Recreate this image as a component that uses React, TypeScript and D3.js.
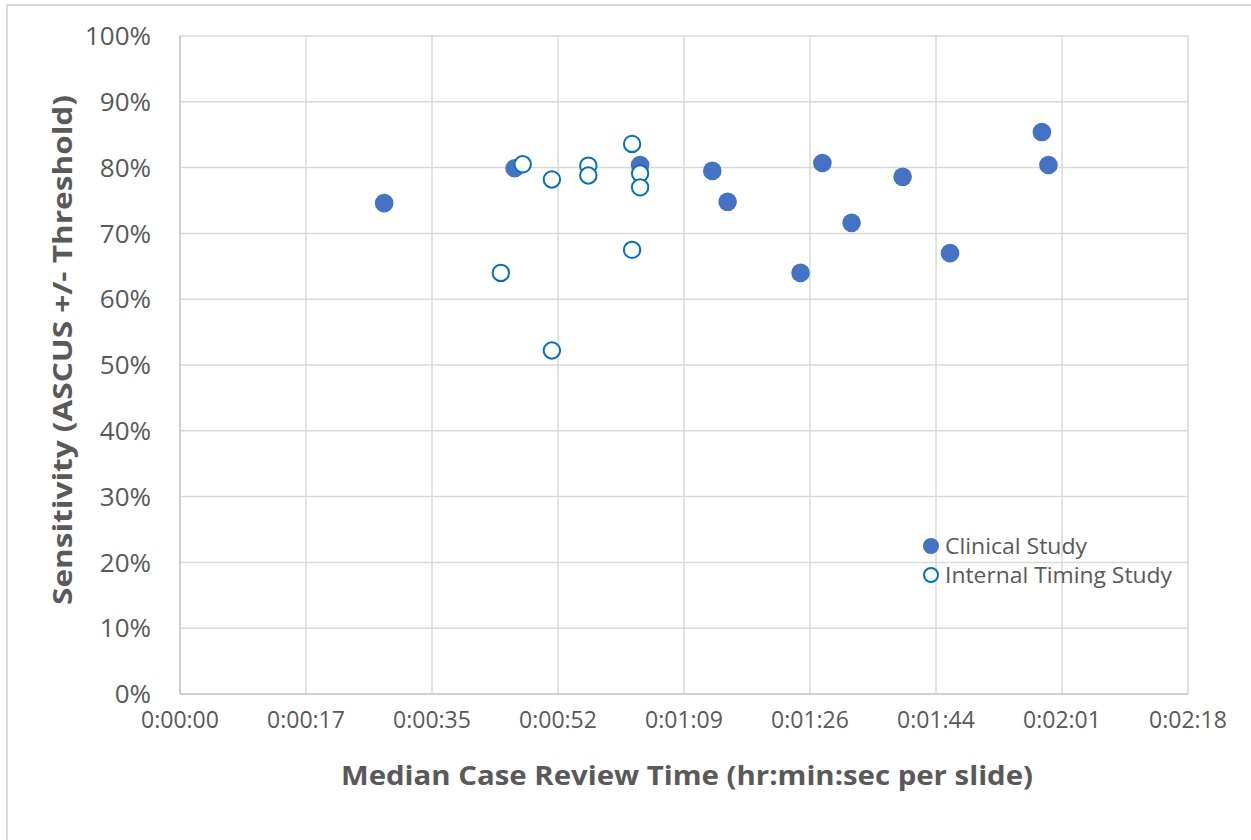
import React from "react";
import * as d3 from "d3";

// Median review time in seconds per slide, sensitivity in %
const clinicalTime = [28.0, 45.9, 63.1, 73.0, 75.1, 85.1, 88.1, 92.1, 99.1, 105.6, 118.2, 119.1];
const clinicalSens = [74.6, 79.9, 80.4, 79.5, 74.8, 64.0, 80.7, 71.6, 78.6, 67.0, 85.4, 80.4];
const internalTime = [44.0, 47.0, 51.0, 51.0, 56.0, 56.0, 62.0, 62.0, 63.1, 63.1];
const internalSens = [64.0, 80.5, 78.2, 52.2, 80.3, 78.8, 83.6, 67.5, 79.1, 77.0];

const xTickLabels = ["0:00:00", "0:00:17", "0:00:35", "0:00:52", "0:01:09", "0:01:26", "0:01:44", "0:02:01", "0:02:18"];
const xTickStep = 17.28; // Excel major unit 0.0002 day
const yTicks = [0, 10, 20, 30, 40, 50, 60, 70, 80, 90, 100];
const seriesNames = ["Clinical Study", "Internal Timing Study"];

const W = 1251;
const H = 840;
const left = 180, right = 1188, top = 36, bottom = 694;
const FONT = "'Open Sans', 'Noto Sans', sans-serif";
const TEXT = "#595959";

export default function App() {
  const x = d3.scaleLinear().domain([0, xTickStep * 8]).range([left, right]);
  const y = d3.scaleLinear().domain([0, 100]).range([bottom, top]);
  const xTicks = xTickLabels.map((_, i) => i * xTickStep);

  const clinical = clinicalTime.map((t, i) => ({ t, s: clinicalSens[i] }));
  const internal = internalTime.map((t, i) => ({ t, s: internalSens[i] }));

  return (
    <svg width={W} height={H} style={{ position: "absolute", left: 0, top: 0, background: "#fff" }} fontFamily={FONT}>
      <rect x={0} y={0} width={W} height={H} fill="#fff" />
      {/* chart border */}
      <rect x={7} y={5} width={W + 20} height={H + 20} fill="none" stroke="#d9d9d9" strokeWidth={2} />

      {/* gridlines */}
      {yTicks.map((v) => (
        <line key={"gy" + v} x1={left} x2={right} y1={y(v)} y2={y(v)} stroke={v === 0 ? "#bfbfbf" : "#d9d9d9"} strokeWidth={v === 0 ? 1.5 : 1.5} />
      ))}
      {xTicks.map((v, i) => (
        <line key={"gx" + i} x1={x(v)} x2={x(v)} y1={top} y2={bottom} stroke={i === 0 ? "#bfbfbf" : "#d9d9d9"} strokeWidth={1.5} />
      ))}

      {/* y tick labels */}
      {yTicks.map((v) => (
        <text key={"ly" + v} x={151} y={y(v)} dy="0.35em" textAnchor="end" fontSize={26} fill={TEXT}>
          {v + "%"}
        </text>
      ))}
      {/* x tick labels */}
      {xTicks.map((v, i) => (
        <text key={"lx" + i} x={x(v)} y={728} textAnchor="middle" fontSize={23} fill={TEXT}>
          {xTickLabels[i]}
        </text>
      ))}

      {/* axis titles */}
      <text
        transform={`translate(72,350) rotate(-90)`}
        textAnchor="middle"
        fontSize={27}
        fontWeight="bold"
        fill={TEXT}
        textLength={510}
        lengthAdjust="spacingAndGlyphs"
      >
        Sensitivity (ASCUS +/- Threshold)
      </text>
      <text
        x={687}
        y={785}
        textAnchor="middle"
        fontSize={27}
        fontWeight="bold"
        fill={TEXT}
        textLength={692}
        lengthAdjust="spacingAndGlyphs"
      >
        Median Case Review Time (hr:min:sec per slide)
      </text>

      {/* clinical study */}
      {clinical.map((d, i) => (
        <circle key={"c" + i} cx={x(d.t)} cy={y(d.s)} r={9.3} fill="#4472C4" />
      ))}
      {/* internal timing study */}
      {internal.map((d, i) => (
        <circle key={"o" + i} cx={x(d.t)} cy={y(d.s)} r={8.2} fill="#fff" stroke="#0070C0" strokeWidth={2} />
      ))}

      {/* legend */}
      <circle cx={931} cy={546} r={8} fill="#4472C4" />
      <text x={945} y={554} fontSize={21} fill={TEXT} textLength={142} lengthAdjust="spacingAndGlyphs">
        {seriesNames[0]}
      </text>
      <circle cx={931} cy={575} r={7} fill="#fff" stroke="#0070C0" strokeWidth={2} />
      <text x={945} y={583} fontSize={21} fill={TEXT} textLength={227} lengthAdjust="spacingAndGlyphs">
        {seriesNames[1]}
      </text>
    </svg>
  );
}
